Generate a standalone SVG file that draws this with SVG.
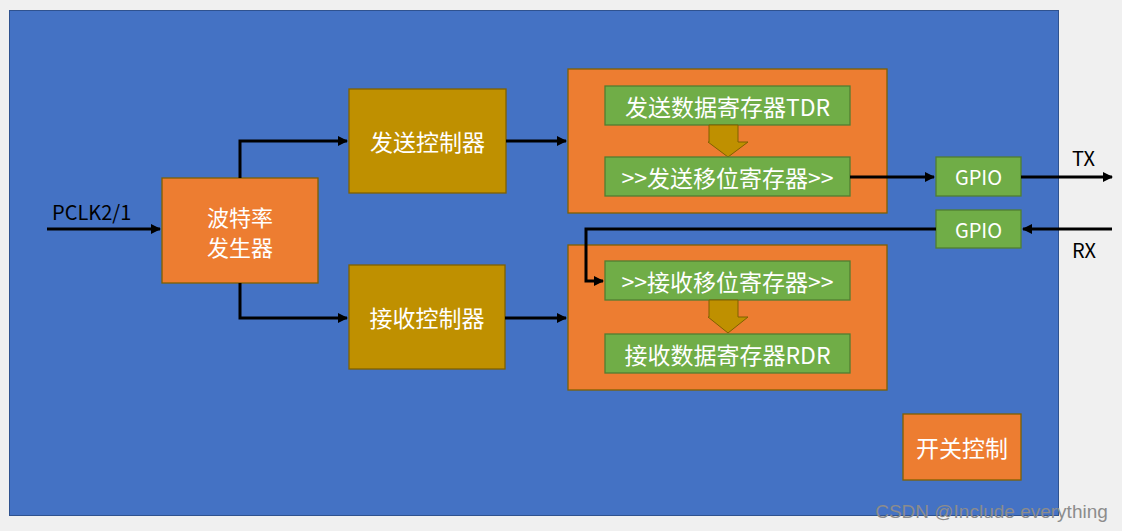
<svg xmlns="http://www.w3.org/2000/svg" width="1122" height="531" viewBox="0 0 1122 531">
<defs>
<style>
.t{font-family:"Noto Sans CJK SC","Liberation Sans",sans-serif;fill:#ffffff;font-size:23px;text-anchor:middle;dominant-baseline:central}
.lbl{font-family:"Noto Sans CJK SC","Liberation Sans",sans-serif;fill:#000000;font-size:20px}
.or{fill:#ED7D31;stroke:#7F6000;stroke-width:1.3}
.gd{fill:#BF9000;stroke:#7F6000;stroke-width:1.3}
.gr{fill:#70AD47;stroke:#507E32;stroke-width:1.3}
.ln{fill:none;stroke:#000;stroke-width:3}
</style>
<marker id="ah" markerWidth="10" markerHeight="10" refX="9" refY="5" orient="auto" markerUnits="userSpaceOnUse">
<path d="M0,0 L10,5 L0,10 z" fill="#000"/>
</marker>
</defs>
<rect x="0" y="0" width="1122" height="531" fill="#F0F0F0"/>
<rect x="9.5" y="10.5" width="1049" height="505" fill="#4472C4" stroke="#2F528F" stroke-width="1"/>

<g id="baud"><rect class="or" x="162" y="178" width="156" height="105"/><text class="t" x="240" y="216" style="font-size:22px">波特率</text><text class="t" x="240" y="246" style="font-size:22px">发生器</text></g>
<g id="txctl"><rect class="gd" x="349" y="89" width="157" height="104"/><text class="t" x="427.5" y="141">发送控制器</text></g>
<g id="rxctl"><rect class="gd" x="349" y="265" width="156" height="104"/><text class="t" x="427" y="317">接收控制器</text></g>

<g id="txbox"><rect class="or" x="568" y="69" width="319" height="144"/></g>
<g id="tdr"><rect class="gr" x="605" y="86" width="245" height="39"/><text class="t" x="727.5" y="105.5">发送数据寄存器TDR</text></g>
<g id="txarrow"><path d="M709,125 L738,125 L738,142 L748,142 L728,157 L708,142 L709,142 z" fill="#BF9000" stroke="#7F6000" stroke-width="1"/></g>
<g id="txshift"><rect class="gr" x="605" y="157" width="245" height="39"/><text class="t" x="727.5" y="176.5">&gt;&gt;发送移位寄存器&gt;&gt;</text></g>

<g id="rxbox"><rect class="or" x="568" y="245" width="319" height="145"/></g>
<g id="rxshift"><rect class="gr" x="605" y="261" width="245" height="39"/><text class="t" x="727.5" y="280.5">&gt;&gt;接收移位寄存器&gt;&gt;</text></g>
<g id="rxarrow"><path d="M709,300 L738,300 L738,317 L748,317 L728,333 L708,317 L709,317 z" fill="#BF9000" stroke="#7F6000" stroke-width="1"/></g>
<g id="rdr"><rect class="gr" x="605" y="334" width="245" height="39"/><text class="t" x="727.5" y="353.5">接收数据寄存器RDR</text></g>

<g id="gpiotx"><rect class="gr" x="936" y="157" width="85" height="39"/><text class="t" x="978.5" y="176.5" style="font-size:20px">GPIO</text></g>
<g id="gpiorx"><rect class="gr" x="936" y="210" width="85" height="38"/><text class="t" x="978.5" y="229" style="font-size:20px">GPIO</text></g>

<g id="switch"><rect class="or" x="903" y="414" width="118" height="66"/><text class="t" x="962" y="447">开关控制</text></g>

<g id="connectors">
<path class="ln" d="M47,229 L160,229" marker-end="url(#ah)"/>
<path class="ln" d="M240,178 L240,141 L347,141" marker-end="url(#ah)"/>
<path class="ln" d="M240,283 L240,318 L347,318" marker-end="url(#ah)"/>
<path class="ln" d="M506,141 L566,141" marker-end="url(#ah)"/>
<path class="ln" d="M505,318 L566,318" marker-end="url(#ah)"/>
<path class="ln" d="M850,177 L934,177" marker-end="url(#ah)"/>
<path class="ln" d="M1021,177 L1112,177" marker-end="url(#ah)"/>
<path class="ln" d="M1112,229 L1023,229" marker-end="url(#ah)"/>
<path class="ln" d="M936,229 L586,229 L586,281 L603,281" marker-end="url(#ah)"/>
</g>

<text class="lbl" x="52" y="220">PCLK2/1</text>
<text class="lbl" x="1072" y="166">TX</text>
<text class="lbl" x="1072" y="258">RX</text>
<text x="991.5" y="518" style="font-family:'Liberation Sans',sans-serif;font-size:19px;fill:#8c8c8c;text-anchor:middle">CSDN @Include everything</text>
</svg>
